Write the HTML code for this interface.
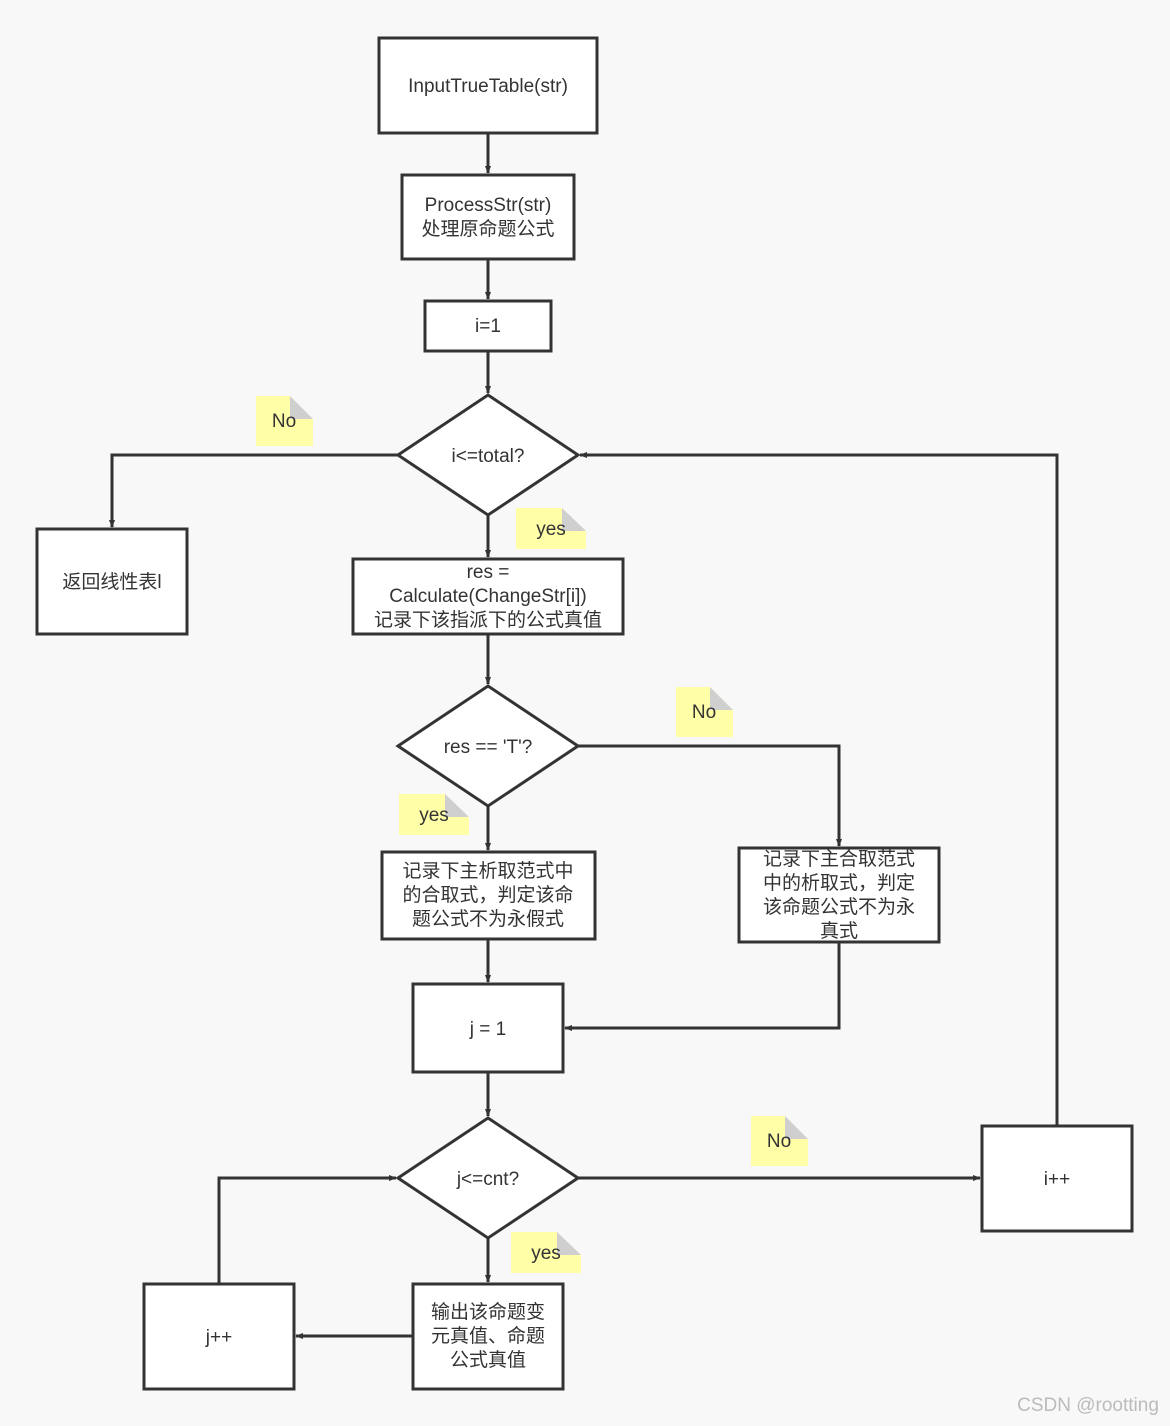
<!DOCTYPE html>
<html><head><meta charset="utf-8"><style>
html,body{margin:0;padding:0;background:#f8f8f8}
svg{display:block}
text{font-family:"Liberation Sans","Noto Sans CJK SC",sans-serif;font-size:19px;fill:#333;text-anchor:middle;dominant-baseline:middle}
.b{fill:#fff;stroke:#333;stroke-width:3}
.l{fill:none;stroke:#333;stroke-width:3;marker-end:url(#a)}
.n{fill:#ffffa8}
.f{fill:#cfcfcf}
</style></head><body>
<svg width="1170" height="1426" viewBox="0 0 1170 1426">
<defs><marker id="a" markerWidth="8" markerHeight="8" refX="7" refY="4" orient="auto" markerUnits="userSpaceOnUse" viewBox="0 0 8 8"><path d="M0,1 L8,4 L0,7z" fill="#333"/></marker>
<marker id="a" markerWidth="16" markerHeight="20" refX="20" refY="8" orient="auto" markerUnits="userSpaceOnUse"><path d="M0,0 L20,8 L0,16z" fill="#333"/></marker></defs>
<!-- connectors -->
<path class="l" d="M488,133V173"/>
<path class="l" d="M488,259V299"/>
<path class="l" d="M488,351V393"/>
<path class="l" d="M398,455H112V527"/>
<path class="l" d="M488,515V557"/>
<path class="l" d="M488,634V684"/>
<path class="l" d="M578,746H839V846"/>
<path class="l" d="M488,806V850"/>
<path class="l" d="M488,939V982"/>
<path class="l" d="M839,942V1028H565"/>
<path class="l" d="M488,1072V1116"/>
<path class="l" d="M578,1178H980"/>
<path class="l" d="M1057,1126V455H580"/>
<path class="l" d="M488,1238V1282"/>
<path class="l" d="M413,1336H296"/>
<path class="l" d="M219,1284V1178H396"/>
<!-- nodes -->
<rect class="b" x="379" y="38" width="218" height="95"/><text x="488" y="87">InputTrueTable(str)</text>
<rect class="b" x="402" y="175" width="172" height="84"/><text x="488" y="206">ProcessStr(str)</text><text x="488" y="230">处理原命题公式</text>
<rect class="b" x="425" y="301" width="126" height="50"/><text x="488" y="327">i=1</text>
<path class="b" d="M488,395L578,455L488,515L398,455z"/><text x="488" y="457">i&lt;=total?</text>
<rect class="b" x="37" y="529" width="150" height="105"/><text x="112" y="583">返回线性表l</text>
<rect class="b" x="353" y="559" width="270" height="75"/><text x="488" y="573">res =</text><text x="488" y="597">Calculate(ChangeStr[i])</text><text x="488" y="621">记录下该指派下的公式真值</text>
<path class="b" d="M488,686L578,746L488,806L398,746z"/><text x="488" y="748">res == 'T'?</text>
<rect class="b" x="382" y="852" width="213" height="87"/><text x="488" y="872">记录下主析取范式中</text><text x="488" y="896">的合取式，判定该命</text><text x="488" y="920">题公式不为永假式</text>
<rect class="b" x="739" y="848" width="200" height="94"/><text x="839" y="860">记录下主合取范式</text><text x="839" y="884">中的析取式，判定</text><text x="839" y="908">该命题公式不为永</text><text x="839" y="932">真式</text>
<rect class="b" x="413" y="984" width="150" height="88"/><text x="488" y="1030">j = 1</text>
<path class="b" d="M488,1118L578,1178L488,1238L398,1178z"/><text x="488" y="1180">j&lt;=cnt?</text>
<rect class="b" x="982" y="1126" width="150" height="105"/><text x="1057" y="1180">i++</text>
<rect class="b" x="413" y="1284" width="150" height="105"/><text x="488" y="1313">输出该命题变</text><text x="488" y="1337">元真值、命题</text><text x="488" y="1361">公式真值</text>
<rect class="b" x="144" y="1284" width="150" height="105"/><text x="219" y="1338">j++</text>
<!-- notes -->
<g transform="translate(256,396)"><path class="n" d="M0,0H34L57,23V50H0z"/><path class="f" d="M34,0L57,23H34z"/><text x="28" y="26">No</text></g>
<g transform="translate(516,508)"><path class="n" d="M0,0H46L70,23V41H0z"/><path class="f" d="M46,0L70,23H46z"/><text x="35" y="22">yes</text></g>
<g transform="translate(676,687)"><path class="n" d="M0,0H34L57,23V50H0z"/><path class="f" d="M34,0L57,23H34z"/><text x="28" y="26">No</text></g>
<g transform="translate(399,794)"><path class="n" d="M0,0H46L70,23V41H0z"/><path class="f" d="M46,0L70,23H46z"/><text x="35" y="22">yes</text></g>
<g transform="translate(751,1116)"><path class="n" d="M0,0H34L57,23V50H0z"/><path class="f" d="M34,0L57,23H34z"/><text x="28" y="26">No</text></g>
<g transform="translate(511,1232)"><path class="n" d="M0,0H46L70,23V41H0z"/><path class="f" d="M46,0L70,23H46z"/><text x="35" y="22">yes</text></g>
<text x="1088" y="1406" style="fill:#bbb;font-size:19px">CSDN @rootting</text>
</svg>
</body></html>
